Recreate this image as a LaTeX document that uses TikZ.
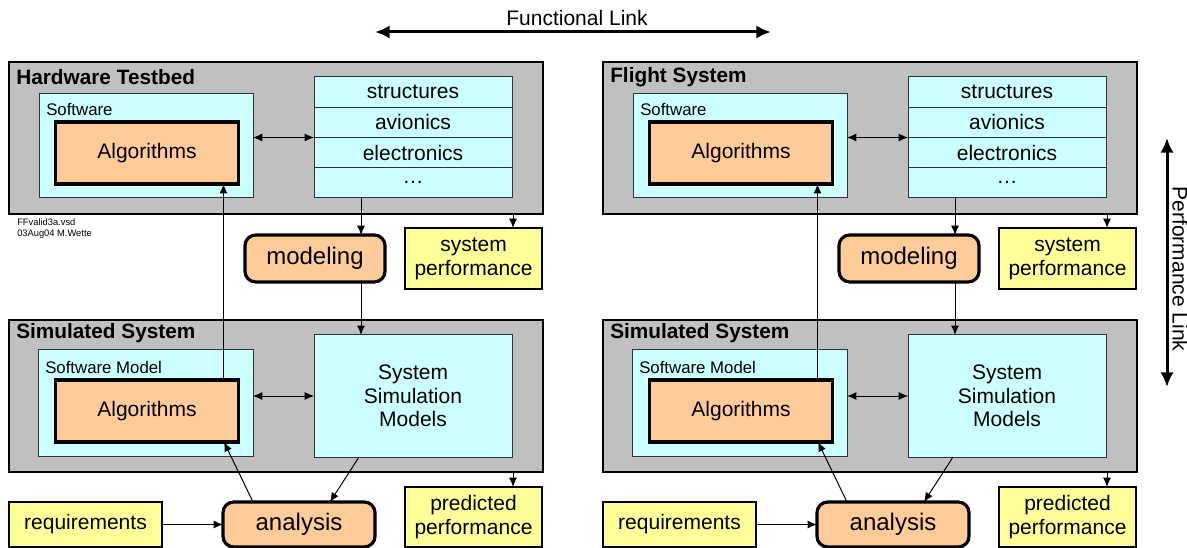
\documentclass[tikz,border=0pt]{standalone}
\usepackage{fontspec}
\setmainfont{Liberation Sans}
\usepackage{xcolor}
\usepackage{tikz}
\usetikzlibrary{positioning, arrows.meta, shapes}
\definecolor{panelgray}{HTML}{C0C0C0}
\definecolor{swcyan}{HTML}{CCFFFF}
\definecolor{algorange}{HTML}{FFCC99}
\definecolor{perfyellow}{HTML}{FFFF99}
\newdimen\px \px=0.75pt
\tikzset{
  box/.style={draw, inner sep=0pt, outer sep=0pt, anchor=north west},
  panel/.style={box, fill=panelgray, line width=1.5pt},
  swbox/.style={box, fill=swcyan, draw=black!80, line width=0.75pt, font=\fontsize{15.75}{17.6}\selectfont},
  algbox/.style={box, fill=algorange, line width=2.4pt, font=\fontsize{15.75}{18}\selectfont},
  taskbox/.style={box, fill=algorange, line width=2.4pt, rounded corners=8pt, font=\fontsize{18}{21}\selectfont},
  perfbox/.style={box, fill=perfyellow, line width=1.1pt, align=center, font=\fontsize{15.75}{18}\selectfont},
  ptitle/.style={anchor=west, inner sep=0pt, font=\fontsize{15.6}{18}\bfseries},
  plabel/.style={anchor=west, inner sep=0pt, font=\fontsize{12.6}{15}\selectfont},
  flow/.style={-{Latex[length=7pt, width=6pt]}, line width=0.75pt},
  biflow/.style={{Latex[length=7pt, width=6pt]}-{Latex[length=7pt, width=6pt]}, line width=0.75pt},
  link/.style={{Latex[length=11pt, width=10pt]}-{Latex[length=11pt, width=10pt]}, line width=2.25pt}
}
\begin{document}
\begin{tikzpicture}[x=0.75pt, y=-0.75pt]
    \useasboundingbox (0,0) rectangle (1187,548);
    % the two links
    \coordinate (fl1) at (375,32); \coordinate (fl2) at (771,32);
    \draw[link] (fl1) -- (fl2);
    \node[font=\fontsize{15.75}{18}\selectfont] (fltext) at (577,18) {Functional Link};
    \coordinate (pl1) at (1167,138); \coordinate (pl2) at (1167,387);
    \draw[link] (pl1) -- (pl2);
    \node[rotate=-90, font=\fontsize{15.75}{18}\selectfont] (pltext) at (1180,269) {Performance Link};
    % one panel pair per side
    \foreach \p/\dx/\name in {H/0/Hardware Testbed, F/594/Flight System} {
      \begin{scope}[shift={(\dx,0)}]
        \node[panel, minimum width=534\px, minimum height=152\px] (top\p) at (9,62) {};
        \node[ptitle] (toptitle\p) at (16,77) {\name};
        \node[swbox, minimum width=214\px, minimum height=104\px] (sw\p) at (39,94) {};
        \node[plabel] (swlabel\p) at (46,110) {Software};
        \node[algbox, minimum width=183\px, minimum height=62\px] (algT\p) at (55.5,122) {\raisebox{-1pt}{Algorithms}};
        \foreach \i/\t in {1/structures, 2/avionics, 3/electronics, 4/\dots}
          \node[swbox, minimum width=198\px, minimum height=30.25\px] (row\i\p) at (314,{77+30.25*(\i-1)}) {\raisebox{-1pt}{\t}};
        \node[taskbox, minimum width=140\px, minimum height=47\px] (model\p) at (245,235) {\raisebox{-1pt}{modeling}};
        \node[perfbox, minimum width=137\px, minimum height=61\px] (sysperf\p) at (405,228) {system\\performance};

        \node[panel, minimum width=534\px, minimum height=152\px] (sim\p) at (9,320) {};
        \node[ptitle] (simtitle\p) at (16,333) {Simulated System};
        \node[swbox, minimum width=215\px, minimum height=106\px] (swm\p) at (38,350) {};
        \node[plabel] (swmlabel\p) at (45,367) {Software Model};
        \node[algbox, minimum width=183\px, minimum height=62\px] (algS\p) at (55.5,380) {\raisebox{-1pt}{Algorithms}};
        \node[swbox, align=center, minimum width=198\px, minimum height=122\px] (ssm\p) at (314,335) {System\\Simulation\\Models};
        \node[perfbox, minimum width=137\px, minimum height=60\px] (predperf\p) at (405,487) {predicted\\performance};
        \node[perfbox, minimum width=153\px, minimum height=45\px] (req\p) at (9,502) {\raisebox{-1pt}{requirements}};
        \node[taskbox, minimum width=152\px, minimum height=45\px] (analysis\p) at (223,502) {\raisebox{-1pt}{analysis}};

        % connectors
        \draw[biflow] (sw\p.east |- row2\p.south) -- (row2\p.south west);
        \draw[biflow] (swm\p.east |- ssm\p.west) -- (ssm\p.west);
        \coordinate (mx\p) at ([xshift=47\px]row4\p.south west);
        \draw[flow] (mx\p) -- (mx\p |- model\p.north);
        \draw[flow] (mx\p |- model\p.south) -- (mx\p |- ssm\p.north);
        \coordinate (px\p) at ([xshift=-29\px]sysperf\p.north east);
        \draw[flow] (px\p |- top\p.south) -- (px\p);
        \coordinate (qx\p) at ([xshift=-29\px]predperf\p.north east);
        \draw[flow] (qx\p |- sim\p.south) -- (qx\p);
        \coordinate (ax\p) at ([xshift=-15\px]algS\p.north east);
        \draw[flow] (ax\p) -- (ax\p |- algT\p.south);
        \draw[flow] ([xshift=30\px]analysis\p.north west) -- ([xshift=-14.5\px]algS\p.south east);
        \draw[flow] ([xshift=45\px]ssm\p.south west) -- ([xshift=-45\px]analysis\p.north east);
        \draw[flow] (req\p.east) -- (analysis\p.west);
      \end{scope}
    }
    \node[anchor=north west, inner sep=0pt, align=left, font=\fontsize{7}{8.25}\selectfont] (stamp) at (17,218) {FFvalid3a.vsd\\03Aug04 M.Wette};
\end{tikzpicture}
\end{document}
